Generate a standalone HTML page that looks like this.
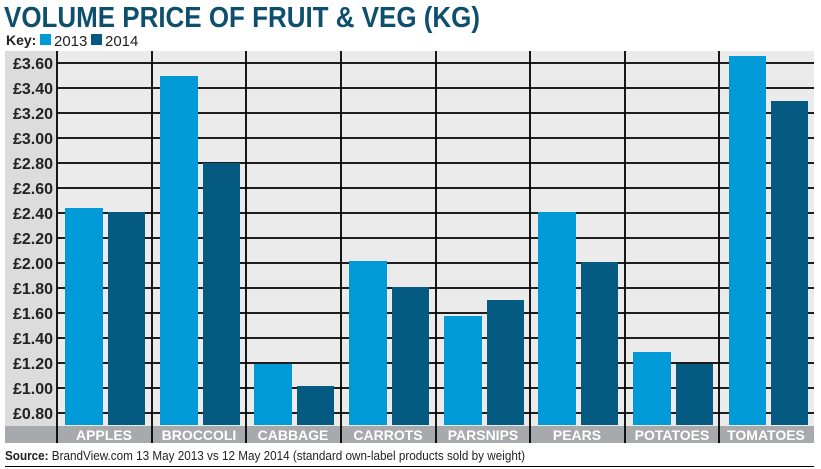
<!DOCTYPE html>
<html><head><meta charset="utf-8"><style>
body{margin:0;background:#fff;}
svg{display:block;font-family:"Liberation Sans",sans-serif;}
</style></head><body>
<svg width="821" height="469" viewBox="0 0 821 469">
<text x="4" y="27" font-size="29" font-weight="bold" fill="#0f4f6e" textLength="476" lengthAdjust="spacingAndGlyphs">VOLUME PRICE OF FRUIT &amp; VEG (KG)</text>
<text x="6" y="45" font-size="14" font-weight="bold" fill="#222">Key:</text>
<rect x="40" y="34" width="11" height="11" fill="#009ad8"/>
<text x="54" y="46" font-size="15" fill="#222">2013</text>
<rect x="91" y="34" width="11" height="11" fill="#045a80"/>
<text x="105" y="46" font-size="15" fill="#222">2014</text>
<rect x="5" y="51" width="52" height="375" fill="#dcdcdc"/>
<rect x="57" y="51" width="757" height="375" fill="#ebebeb"/>
<rect x="5" y="426" width="809" height="17" fill="#a7a9ac"/>
<g stroke="#000" stroke-width="1.8">
<line x1="57" y1="63" x2="814" y2="63"/><line x1="57" y1="88" x2="814" y2="88"/><line x1="57" y1="113" x2="814" y2="113"/><line x1="57" y1="138" x2="814" y2="138"/><line x1="57" y1="163" x2="814" y2="163"/><line x1="57" y1="188" x2="814" y2="188"/><line x1="57" y1="213" x2="814" y2="213"/><line x1="57" y1="238" x2="814" y2="238"/><line x1="57" y1="263" x2="814" y2="263"/><line x1="57" y1="288" x2="814" y2="288"/><line x1="57" y1="313" x2="814" y2="313"/><line x1="57" y1="338" x2="814" y2="338"/><line x1="57" y1="363" x2="814" y2="363"/><line x1="57" y1="388" x2="814" y2="388"/><line x1="57" y1="413" x2="814" y2="413"/>
</g>
<g stroke="#000" stroke-width="1.8">
<line x1="57" y1="51" x2="57" y2="443"/><line x1="152" y1="51" x2="152" y2="443"/><line x1="246" y1="51" x2="246" y2="443"/><line x1="341" y1="51" x2="341" y2="443"/><line x1="436" y1="51" x2="436" y2="443"/><line x1="530" y1="51" x2="530" y2="443"/><line x1="625" y1="51" x2="625" y2="443"/><line x1="719" y1="51" x2="719" y2="443"/>
</g>
<g>
<rect x="65" y="208" width="38" height="217" fill="#009ad8"/><rect x="108" y="212" width="37" height="213" fill="#045a80"/>
<rect x="160" y="76" width="38" height="349" fill="#009ad8"/><rect x="203" y="163" width="37" height="262" fill="#045a80"/>
<rect x="254" y="364" width="38" height="61" fill="#009ad8"/><rect x="297" y="386" width="37" height="39" fill="#045a80"/>
<rect x="349" y="261" width="38" height="164" fill="#009ad8"/><rect x="392" y="287" width="37" height="138" fill="#045a80"/>
<rect x="444" y="316" width="38" height="109" fill="#009ad8"/><rect x="487" y="300" width="37" height="125" fill="#045a80"/>
<rect x="538" y="212" width="38" height="213" fill="#009ad8"/><rect x="581" y="262" width="37" height="163" fill="#045a80"/>
<rect x="633" y="352" width="38" height="73" fill="#009ad8"/><rect x="676" y="364" width="37" height="61" fill="#045a80"/>
<rect x="729" y="56" width="37" height="369" fill="#009ad8"/><rect x="771" y="101" width="37" height="324" fill="#045a80"/>
</g>
<g font-size="16" font-weight="bold" fill="#222" text-anchor="end">
<text x="53" y="69">£3.60</text><text x="53" y="94">£3.40</text><text x="53" y="119">£3.20</text><text x="53" y="144">£3.00</text><text x="53" y="169">£2.80</text><text x="53" y="194">£2.60</text><text x="53" y="219">£2.40</text><text x="53" y="244">£2.20</text><text x="53" y="269">£2.00</text><text x="53" y="294">£1.80</text><text x="53" y="319">£1.60</text><text x="53" y="344">£1.40</text><text x="53" y="369">£1.20</text><text x="53" y="394">£1.00</text><text x="53" y="419">£0.80</text>
</g>
<g font-size="14" font-weight="bold" fill="#fff" text-anchor="middle">
<text x="104" y="440">APPLES</text><text x="199" y="440">BROCCOLI</text><text x="293" y="440">CABBAGE</text><text x="388" y="440">CARROTS</text><text x="483" y="440">PARSNIPS</text><text x="577" y="440">PEARS</text><text x="672" y="440">POTATOES</text><text x="766" y="440">TOMATOES</text>
</g>
<text x="5" y="460" font-size="12.5" fill="#222" textLength="520" lengthAdjust="spacingAndGlyphs"><tspan font-weight="bold">Source:</tspan> BrandView.com 13 May 2013 vs 12 May 2014 (standard own-label products sold by weight)</text>
<line x1="5" y1="466.5" x2="814" y2="466.5" stroke="#000" stroke-width="1"/>
</svg>
</body></html>
